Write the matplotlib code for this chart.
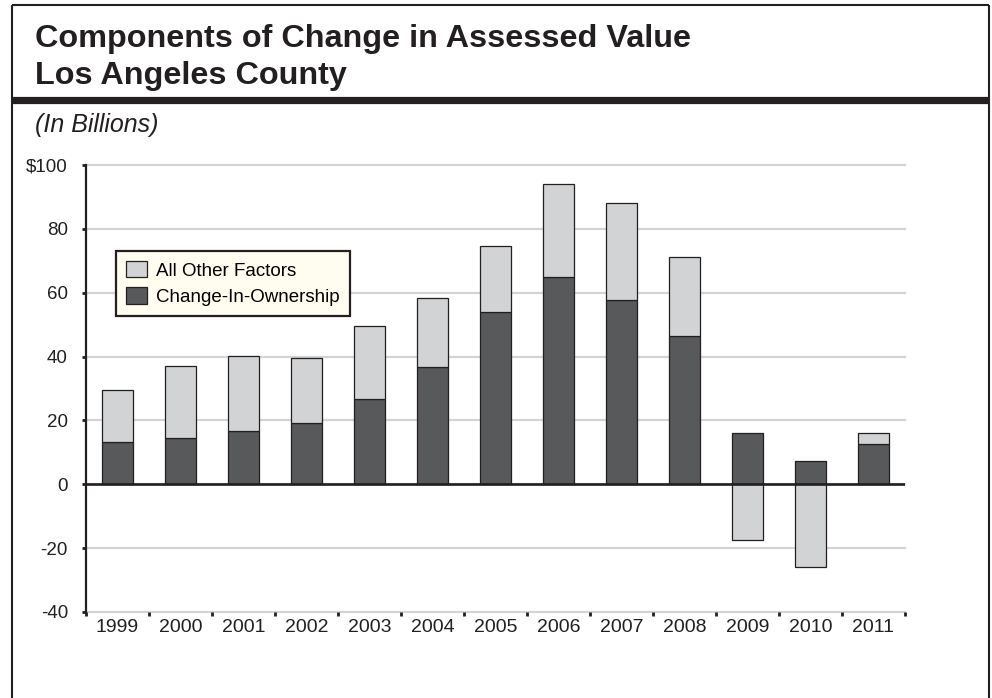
import numpy as np
import matplotlib.pyplot as plt
from matplotlib.lines import Line2D

plt.rcParams['font.family'] = ['Liberation Sans', 'DejaVu Sans']

years = ['1999', '2000', '2001', '2002', '2003', '2004', '2005',
         '2006', '2007', '2008', '2009', '2010', '2011']
# change-in-ownership and all other factors (both in $ billions)
cio = np.array([13.2, 14.6, 16.8, 19.2, 26.7, 36.6, 54.0, 64.8, 57.7, 46.5, 16.1, 7.2, 12.5])
other = np.array([16.3, 22.5, 23.4, 20.4, 23.0, 21.9, 20.7, 29.1, 30.3, 24.6, -17.5, -26.0, 3.6])
yticks = [-40, -20, 0, 20, 40, 60, 80, 100]
ylabels = ['-40', '-20', '0', '20', '40', '60', '80', '$100']

DARK = '#58595b'
LIGHT = '#d1d3d4'
EDGE = '#231f20'

W, H = 992, 698
fig = plt.figure(figsize=(W / 100, H / 100), dpi=100)

# frame and header bar
def fline(x0, y0, x1, y1, lw):
    fig.add_artist(Line2D([x0 / W, x1 / W], [1 - y0 / H, 1 - y1 / H],
                          transform=fig.transFigure, color=EDGE, lw=lw,
                          solid_capstyle='butt'))

fline(12, 5, 989, 5, 1.5)
fline(12, 5, 12, H, 1.5)
fline(989, 5, 989, H, 1.5)
fline(12, 100, 989, 100, 5.2)

fig.text(35 / W, 1 - 47 / H, 'Components of Change in Assessed Value',
         fontsize=23.3, fontweight='bold', va='baseline', color=EDGE)
fig.text(35 / W, 1 - 84 / H, 'Los Angeles County',
         fontsize=23.3, fontweight='bold', va='baseline', color=EDGE)
fig.text(35 / W, 1 - 132 / H, '(In Billions)',
         fontsize=18, style='italic', va='baseline', color=EDGE)

ax = fig.add_axes([86 / W, 1 - 612 / H, 819 / W, 447 / H])
x = np.arange(len(years))

for t in yticks:
    ax.axhline(t, color='#d4d4d4', lw=1.6, zorder=0, clip_on=False)

bottom_other = np.where(other >= 0, cio, 0)
ax.bar(x, cio, width=0.5, color=DARK, edgecolor=EDGE, lw=0.9, zorder=2,
       label='Change-In-Ownership')
ax.bar(x, other, bottom=bottom_other, width=0.5, color=LIGHT, edgecolor=EDGE,
       lw=0.9, zorder=2, label='All Other Factors')
ax.axhline(0, color=EDGE, lw=1.9, zorder=3)

ax.set_xlim(-0.5, len(years) - 0.5)
ax.set_ylim(-40, 100)
ax.set_yticks(yticks)
ax.set_yticklabels(ylabels)
ax.set_xticks(x)
ax.set_xticklabels(years)
ax.set_xticks(np.arange(len(years) + 1) - 0.5, minor=True)
ax.tick_params(axis='x', which='major', length=0, pad=5, labelsize=14, labelcolor=EDGE)
ax.tick_params(axis='x', which='minor', length=3, width=2, color=EDGE, direction='out')
ax.tick_params(axis='y', length=3, width=2, color=EDGE, pad=10,
               labelsize=13.5, labelcolor=EDGE)

for s in ['top', 'right', 'bottom']:
    ax.spines[s].set_visible(False)
ax.spines['left'].set_color(EDGE)
ax.spines['left'].set_linewidth(1.6)

h, l = ax.get_legend_handles_labels()
leg = ax.legend(h[::-1], l[::-1], loc='upper left',
                bbox_to_anchor=((116 - 86) / 819, (612 - 251) / 447),
                borderaxespad=0, fontsize=13.5, frameon=True, fancybox=False,
                handlelength=1.1, handleheight=0.95, handletextpad=0.5,
                labelspacing=0.4, borderpad=0.55)
leg.get_frame().set_facecolor('#fffcf0')
leg.get_frame().set_edgecolor(EDGE)
leg.get_frame().set_linewidth(1.6)
leg.get_frame().set_alpha(1)

fig.savefig('out.png', dpi=100)
